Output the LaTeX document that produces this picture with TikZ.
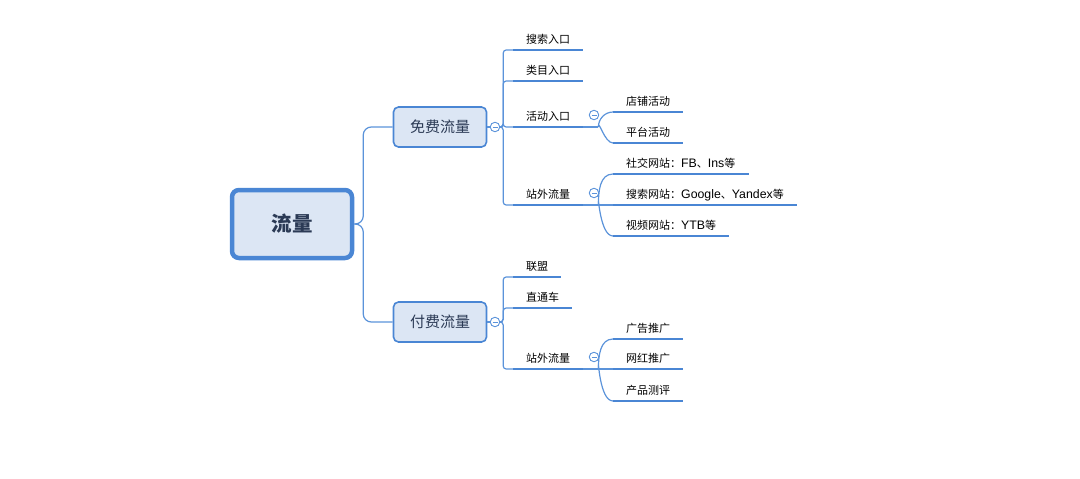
\documentclass[tikz,border=0pt]{standalone}
\usepackage{fontspec}
\setmainfont{Noto Sans CJK SC}
\newfontfamily\latinfont[Scale=1.12]{Liberation Sans}
\usepackage{tikz}
\usetikzlibrary{calc}
\definecolor{mapblue}{HTML}{4A86D4}
\definecolor{mapline}{HTML}{5B93DA}
\definecolor{mapfill}{HTML}{DCE6F4}
\definecolor{maptext}{HTML}{2B3A55}
\tikzset{
  rootbox/.style={draw=mapblue, fill=mapfill, line width=4.5pt, rounded corners=7pt,
    minimum width=120pt, minimum height=68pt, text=maptext,
    font=\fontsize{20.5}{24}\selectfont\bfseries},
  topicbox/.style={draw=mapblue, fill=mapfill, line width=1.6pt, rounded corners=5pt,
    minimum width=93pt, minimum height=40pt, text=maptext,
    font=\fontsize{15}{18}\selectfont},
  leaf/.style={anchor=south west, inner xsep=13pt, inner ysep=3.5pt,
    text height=9.5pt, text depth=2.5pt, text=black,
    font=\fontsize{11}{13}\selectfont},
  uline/.style={draw=mapblue, line width=2.6pt},
  link/.style={draw=mapline, line width=1.2pt},
  fold/.style={circle, draw=mapline, fill=white, line width=0.9pt, minimum size=9.5pt,
    inner sep=0pt, path picture={\draw[mapline, line width=0.8pt]
      ([xshift=-2.5pt]path picture bounding box.center) --
      ([xshift=2.5pt]path picture bounding box.center);}}
}
\begin{document}
\begin{tikzpicture}[x=1pt,y=-1pt]
            \useasboundingbox (0,0) rectangle (1080,479);
            \node[rootbox] (Root) at (292,224) {流量};
            \node[topicbox] (Free) at (440,127) {免费流量};
            \node[topicbox] (Paid) at (440,322) {付费流量};
            \node[fold] (Fold0) at (495,127) {};
            \node[fold] (Fold1) at (495,322) {};
            \node[leaf] (Item0) at (513,50) {搜索入口};
            \node[leaf] (Item1) at (513,81) {类目入口};
            \node[leaf] (Item2) at (513,127) {活动入口};
            \node[leaf] (Item3) at (513,205) {站外流量};
            \node[leaf] (Item4) at (513,277) {联盟};
            \node[leaf] (Item5) at (513,308) {直通车};
            \node[leaf] (Item6) at (513,369) {站外流量};
            \node[fold] (Fold2) at (594,115) {};
            \node[fold] (Fold3) at (594,193) {};
            \node[fold] (Fold4) at (594,357) {};
            \node[leaf] (Sub0) at (613,112) {店铺活动};
            \node[leaf] (Sub1) at (613,143) {平台活动};
            \node[leaf] (Sub2) at (613,174) {社交网站：{\latinfont FB}、{\latinfont Ins}等};
            \node[leaf] (Sub3) at (613,205) {搜索网站：{\latinfont Google}、{\latinfont Yandex}等};
            \node[leaf] (Sub4) at (613,236) {视频网站：{\latinfont YTB}等};
            \node[leaf] (Sub5) at (613,339) {广告推广};
            \node[leaf] (Sub6) at (613,369) {网红推广};
            \node[leaf] (Sub7) at (613,401) {产品测评};
            \draw[link, rounded corners=8pt] (Root.east) -- ++(9,0) |- (Free.west);
            \draw[link, rounded corners=8pt] (Root.east) -- ++(9,0) |- (Paid.west);
            \draw[link] (Free.east) -- (Fold0.west);
            \draw[link] (Paid.east) -- (Fold1.west);
            \foreach \n in {Item0,Item1,Item2,Item3}
              \draw[link, rounded corners=3pt] (Fold0.east) -- ++(3,0) |- (\n.south west);
            \foreach \n in {Item4,Item5,Item6}
              \draw[link, rounded corners=3pt] (Fold1.east) -- ++(3,0) |- (\n.south west);
            \draw[link] (Item2.south east) -- ++(15,0) coordinate (Join0);
            \draw[link] (Item3.south east) -- (Sub3.south west);
            \draw[link] (Item6.south east) -- (Sub6.south west);
            \coordinate (Join1) at ($(Item3.south east)+(15,0)$);
            \coordinate (Join2) at ($(Item6.south east)+(15,0)$);
            \foreach \n in {Sub0,Sub1}
              \draw[link] (Join0) to[out=90,in=180] (\n.south west);
            \foreach \n in {Sub2,Sub4}
              \draw[link] (Join1) to[out=90,in=180] (\n.south west);
            \foreach \n in {Sub5,Sub7}
              \draw[link] (Join2) to[out=90,in=180] (\n.south west);
            \foreach \n in {Item0,Item1,Item2,Item3,Item4,Item5,Item6,Sub0,Sub1,Sub2,Sub3,Sub4,Sub5,Sub6,Sub7}
              \draw[uline] (\n.south west) -- (\n.south east);
        \end{tikzpicture}
\end{document}
